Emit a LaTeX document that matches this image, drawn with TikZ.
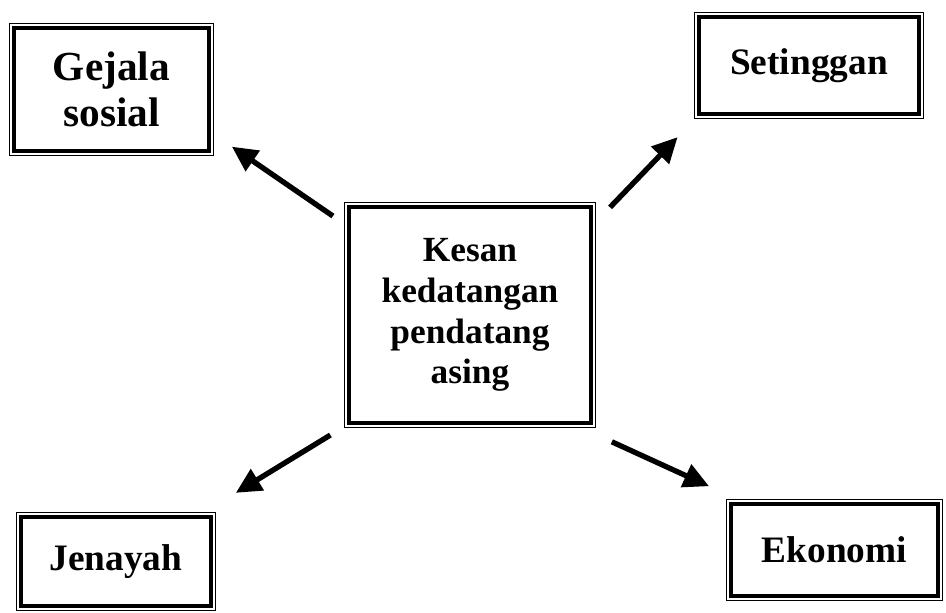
\documentclass[tikz,border=0pt]{standalone}
\usepackage{fontspec}
\setmainfont{Liberation Serif}
\usetikzlibrary{arrows.meta}

\begin{document}
\begin{tikzpicture}[x=0.75pt, y=-0.75pt,
kotak/.style={draw, line width=3.4pt, align=center, inner sep=0pt, outer sep=0pt,
font=\bfseries\fontsize{28}{33}\selectfont},
panah/.style={-{Triangle[length=19pt,width=18pt]}, line width=4pt}]
\useasboundingbox (0,0) rectangle (946,612);
\node [kotak, minimum width=181.5pt, minimum height=162pt,
font=\bfseries\fontsize{26.5}{30.5}\selectfont] (pusat) at (470,315)
{Kesan\\kedatangan\\pendatang\\asing};
\node [kotak, minimum width=146pt, minimum height=92pt,
font=\bfseries\fontsize{31}{34}\selectfont] (gejala) at (111.5,89.5) {Gejala\\sosial};
\node [kotak, minimum width=165pt, minimum height=73pt] (setinggan) at (809,65.5) {Setinggan};
\node [kotak, minimum width=142.5pt, minimum height=67pt] (jenayah) at (116,561.5) {Jenayah};
\node [kotak, minimum width=155pt, minimum height=69pt] (ekonomi) at (834.5,550) {Ekonomi};
% bingkai nipis di luar
\foreach \n in {pusat,gejala,setinggan,jenayah,ekonomi}
\draw [line width=0.8pt] ([shift={(-3.2pt,3.2pt)}]\n.north west) rectangle ([shift={(3.2pt,-3.2pt)}]\n.south east);
\draw [panah, shorten <=14.6pt, shorten >=21pt] (pusat.144) -- (gejala.-23);
\draw [panah, shorten <=20.6pt, shorten >=23.9pt] (pusat.36) -- (setinggan.-156);
\draw [panah, shorten <=17.3pt, shorten >=34.5pt] (pusat.-138) -- (jenayah.29);
\draw [panah, shorten <=33.9pt, shorten >=32.1pt] (pusat.-47) -- (ekonomi.152);
\end{tikzpicture}
\end{document}
